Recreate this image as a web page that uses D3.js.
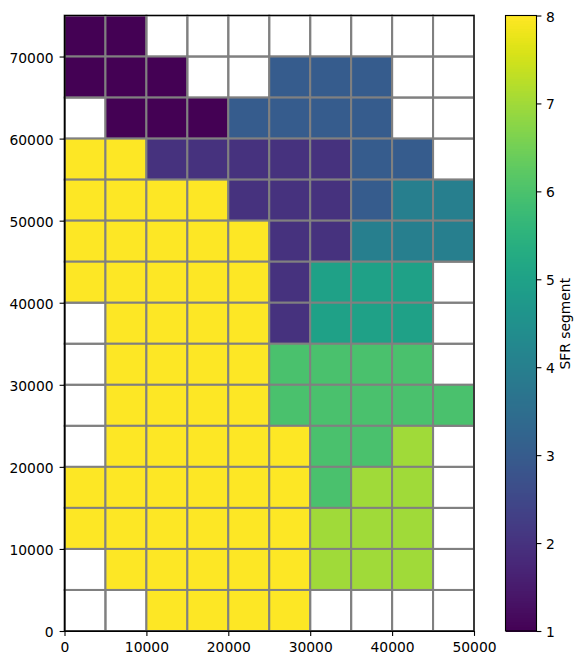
<!DOCTYPE html>
<html><head><meta charset="utf-8">
<script src="https://cdn.jsdelivr.net/npm/d3@7"></script>
<style>html,body{margin:0;padding:0;background:#fff}svg{display:block}text{font-family:"DejaVu Sans";fill:#000}</style>
</head><body><svg id="c" width="584" height="665"></svg>
<script>
// Rows from top (y 70000-75000) to bottom (y 0-5000); null = empty cell
const _ = null;
const segments = [
 [1,1,_,_,_,_,_,_,_,_],
 [1,1,1,_,_,3,3,3,_,_],
 [_,1,1,1,3,3,3,3,_,_],
 [8,8,2,2,2,2,2,3,3,_],
 [8,8,8,8,2,2,2,3,4,4],
 [8,8,8,8,8,2,2,4,4,4],
 [8,8,8,8,8,2,5,5,5,_],
 [_,8,8,8,8,2,5,5,5,_],
 [_,8,8,8,8,6,6,6,6,_],
 [_,8,8,8,8,6,6,6,6,6],
 [_,8,8,8,8,8,6,6,7,_],
 [8,8,8,8,8,8,6,7,7,_],
 [8,8,8,8,8,8,7,7,7,_],
 [_,8,8,8,8,8,7,7,7,_],
 [_,_,8,8,8,8,_,_,_,_]
];
const cellSize = 5000;
const xTicks = [0,10000,20000,30000,40000,50000];
const yTicks = [0,10000,20000,30000,40000,50000,60000,70000];
const cbTicks = [1,2,3,4,5,6,7,8];
const cbLabel = "SFR segment";

const svg = d3.select("#c");
const L=64.5,R=474,T=15.5,B=631, CL=505.5,CR=536.5;
const x = d3.scaleLinear().domain([0,50000]).range([L,R]);
const y = d3.scaleLinear().domain([0,75000]).range([B,T]);
const color = d3.scaleSequential(d3.interpolateViridis).domain([1,8]);
const cb = d3.scaleLinear().domain([1,8]).range([B,T]);

const cells = segments.flatMap((row,i)=>row.map((v,j)=>({v,x0:j*cellSize,y1:(segments.length-i)*cellSize})));
svg.append("g").selectAll("rect").data(cells).join("rect")
  .attr("x",d=>x(d.x0)).attr("y",d=>y(d.y1))
  .attr("width",d=>x(d.x0+cellSize)-x(d.x0)).attr("height",d=>y(d.y1-cellSize)-y(d.y1))
  .attr("fill",d=>d.v===null?"none":color(d.v))
  .attr("stroke","#808080").attr("stroke-width",2);

function style(g){
  g.select(".domain").attr("stroke","#000").attr("stroke-width",1.1);
  g.selectAll(".tick line").attr("stroke","#000").attr("stroke-width",1.1);
  g.selectAll(".tick text").attr("font-size",13.89).attr("font-family","DejaVu Sans").attr("fill","#000");
}
const fmt=d3.format("d");
svg.append("g").attr("transform",`translate(0,${B})`)
  .call(d3.axisBottom(x).tickValues(xTicks).tickFormat(fmt).tickSize(4.9).tickSizeOuter(0).tickPadding(6.2)).call(style);
svg.append("g").attr("transform",`translate(${L},0)`)
  .call(d3.axisLeft(y).tickValues(yTicks).tickFormat(fmt).tickSize(4.9).tickSizeOuter(0).tickPadding(6)).call(style)
  .selectAll(".tick text").attr("dy","0.40em");
svg.append("rect").attr("x",L).attr("y",T).attr("width",R-L).attr("height",B-T)
  .attr("fill","none").attr("stroke","#000").attr("stroke-width",1.1);

// colorbar
const levels = d3.range(256).map(i=>1+7*i/255);
const step = (B-T)/256;
svg.append("g").attr("shape-rendering","crispEdges").selectAll("rect").data(levels).join("rect")
  .attr("x",CL).attr("width",CR-CL)
  .attr("y",(d,i)=>B-(i+1)*step).attr("height",step+1)
  .attr("fill",d=>color(d));
svg.append("rect").attr("x",CL).attr("y",T).attr("width",CR-CL).attr("height",B-T)
  .attr("fill","none").attr("stroke","#000").attr("stroke-width",1.1);
const cbAxis = svg.append("g").attr("transform",`translate(${CR},0)`)
  .call(d3.axisRight(cb).tickValues(cbTicks).tickFormat(fmt).tickSize(4.9).tickSizeOuter(0).tickPadding(4.5)).call(style);
cbAxis.select(".domain").remove();
cbAxis.selectAll(".tick text").attr("dy","0.40em");
svg.append("text").attr("transform",`translate(570,${(T+B)/2+0.5}) rotate(-90)`)
  .attr("text-anchor","middle").attr("font-size",13.89).text(cbLabel);
</script></body></html>
